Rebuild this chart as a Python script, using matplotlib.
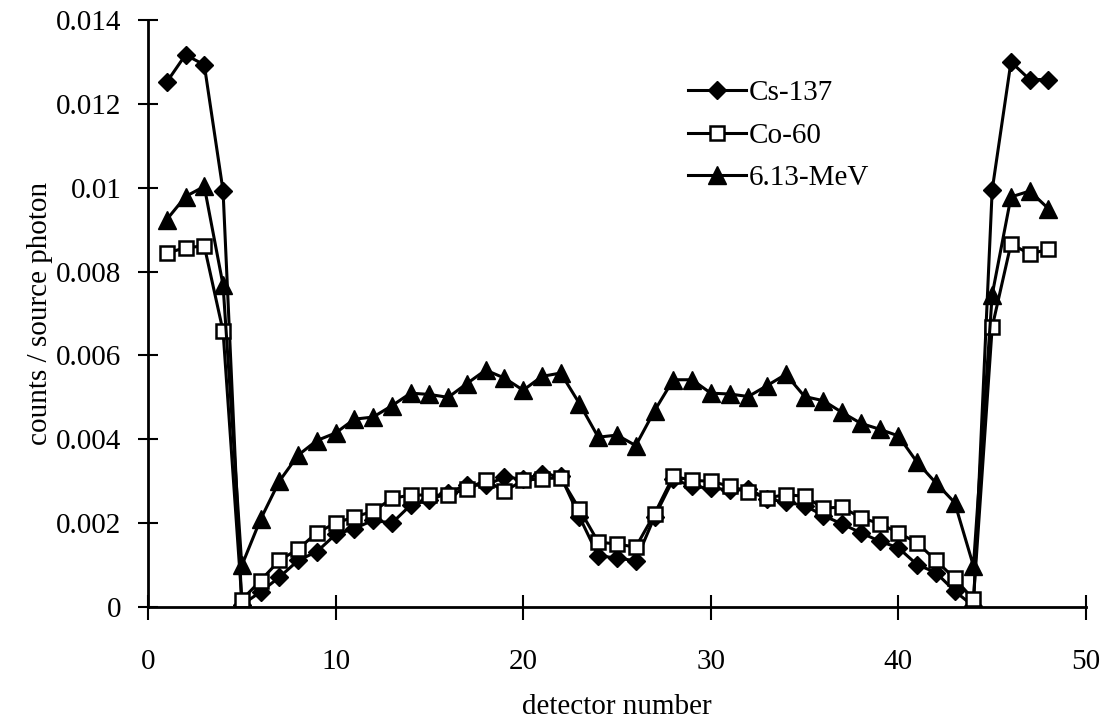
import matplotlib.pyplot as plt
import numpy as np

# detector numbers 1..48, values in counts / source photon
detector = list(range(1, 49))

cs137 = [12.52, 13.17, 12.93, 9.93, 0.05, 0.36, 0.71, 1.11, 1.32, 1.73,
         1.87, 2.07, 2.00, 2.43, 2.55, 2.72, 2.92, 2.90, 3.10, 3.05,
         3.17, 3.12, 2.15, 1.22, 1.17, 1.10, 2.15, 3.05, 2.88, 2.83,
         2.80, 2.82, 2.58, 2.50, 2.42, 2.18, 1.98, 1.77, 1.57, 1.41,
         1.01, 0.82, 0.38, 0.02, 9.95, 13.00, 12.58, 12.58]

co60 = [8.44, 8.57, 8.61, 6.58, 0.17, 0.63, 1.11, 1.38, 1.77, 2.00,
        2.15, 2.28, 2.59, 2.67, 2.67, 2.67, 2.82, 3.02, 2.76, 3.02,
        3.06, 3.08, 2.33, 1.55, 1.50, 1.43, 2.22, 3.12, 3.02, 3.00,
        2.88, 2.75, 2.60, 2.68, 2.64, 2.36, 2.38, 2.13, 1.99, 1.77,
        1.53, 1.11, 0.68, 0.18, 6.68, 8.66, 8.42, 8.53]

mev613 = [9.24, 9.79, 10.03, 7.68, 0.99, 2.09, 3.00, 3.62, 3.97, 4.15,
          4.48, 4.53, 4.80, 5.10, 5.07, 5.00, 5.33, 5.65, 5.46, 5.17,
          5.50, 5.58, 4.85, 4.05, 4.10, 3.85, 4.68, 5.42, 5.42, 5.10,
          5.08, 5.02, 5.28, 5.55, 5.02, 4.92, 4.64, 4.38, 4.24, 4.08,
          3.45, 2.96, 2.49, 0.98, 7.45, 9.78, 9.92, 9.50]

# values above were read in units of 0.001
cs137 = np.array(cs137) / 1000
co60 = np.array(co60) / 1000
mev613 = np.array(mev613) / 1000

plt.rcParams['font.family'] = ['Liberation Serif', 'DejaVu Serif']

fig = plt.figure(figsize=(11.06, 7.2), dpi=100)
ax = fig.add_axes([148/1106, 1 - 607/720, (1086-148)/1106, (607-20)/720])

ax.plot(detector, cs137, color='black', lw=2.2, marker='D', ms=9,
        mfc='black', mec='black', label='Cs-137')
ax.plot(detector, co60, color='black', lw=2.2, marker='s', ms=10,
        mfc='white', mec='black', mew=1.8, label='Co-60')
ax.plot(detector, mev613, color='black', lw=2.2, marker='^', ms=12.5,
        mfc='black', mec='black', label='6.13-MeV')

ax.set_xlim(0, 50)
ax.set_ylim(0, 0.014)
ax.set_xticks([0, 10, 20, 30, 40, 50])
ax.set_yticks([0, 0.002, 0.004, 0.006, 0.008, 0.01, 0.012, 0.014])
ax.set_yticklabels(['0', '0.002', '0.004', '0.006', '0.008', '0.01', '0.012', '0.014'])

ax.spines['top'].set_visible(False)
ax.spines['right'].set_visible(False)
ax.spines['left'].set_linewidth(2)
ax.spines['bottom'].set_linewidth(2)
ax.tick_params(axis='y', direction='inout', length=14, width=1.5, labelsize=21, pad=12)
ax.tick_params(axis='x', direction='inout', length=18, width=1.5, labelsize=21, pad=21)

ax.set_xlabel('detector number', fontsize=21, labelpad=14)
ax.set_ylabel('counts / source photon', fontsize=21, labelpad=2)

ax.legend(loc='upper left', bbox_to_anchor=(688/1106, 1 - 80/720),
          bbox_transform=fig.transFigure, frameon=False, fontsize=21,
          handlelength=2.0, handletextpad=0.1, labelspacing=0.55,
          borderaxespad=0, borderpad=0)

fig.savefig('out.png', dpi=100)
